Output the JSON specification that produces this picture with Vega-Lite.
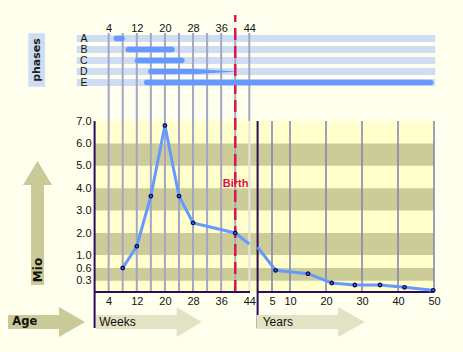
{
  "$schema": "https://vega.github.io/schema/vega-lite/v6.json",
  "width": 463,
  "height": 352,
  "autosize": {"type": "none"},
  "padding": 0,
  "background": "#FFFFEE",
  "config": {
    "view": {"stroke": null},
    "axis": {"labelFont": "Liberation Sans", "labelFontSize": 11, "labelColor": "#111111", "domain": false, "ticks": false, "tickSize": 0, "grid": false, "labelFlush": false, "labelOverlap": false}
  },
  "datasets": {
    "bands": [{"lo": 0.3, "hi": 0.6}, {"lo": 1, "hi": 2}, {"lo": 3, "hi": 4}, {"lo": 5, "hi": 6}],
    "weekgrid": [{"week": 4}, {"week": 8}, {"week": 12}, {"week": 16}, {"week": 20}, {"week": 24}, {"week": 28}, {"week": 32}, {"week": 36}, {"week": 40}],
    "yeargrid": [{"year": 5}, {"year": 10}, {"year": 20}, {"year": 30}, {"year": 40}, {"year": 50}],
    "prenatal": [{"week": 8, "mio": 0.6}, {"week": 12, "mio": 1.4}, {"week": 16, "mio": 3.65}, {"week": 20, "mio": 6.8}, {"week": 24, "mio": 3.65}, {"week": 28, "mio": 2.45}, {"week": 40, "mio": 2.0}, {"week": 44, "mio": 1.5}],
    "postnatal": [{"year": 1, "mio": 1.36}, {"year": 6, "mio": 0.546}, {"year": 15, "mio": 0.465}, {"year": 21.6, "mio": 0.24}, {"year": 28, "mio": 0.186}, {"year": 35, "mio": 0.186}, {"year": 41.8, "mio": 0.125}, {"year": 49.8, "mio": 0.045}],
    "phases": [
      {"phase": "A", "week": 6.2, "intensity": 1}, {"phase": "A", "week": 7.8, "intensity": 1},
      {"phase": "B", "week": 9.6, "intensity": 1}, {"phase": "B", "week": 22.0, "intensity": 1},
      {"phase": "C", "week": 12.2, "intensity": 1}, {"phase": "C", "week": 24.8, "intensity": 1},
      {"phase": "D", "week": 16, "intensity": 1}, {"phase": "D", "week": 29, "intensity": 0.9}, {"phase": "D", "week": 39.6, "intensity": 0.08},
      {"phase": "E", "week": 14.8, "intensity": 1}, {"phase": "E", "week": 95.6, "intensity": 1}
    ],
    "phaserows": [{"phase": "A"}, {"phase": "B"}, {"phase": "C"}, {"phase": "D"}, {"phase": "E"}]
  },
  "layer": [
    {
      "data": {"name": "phaserows"},
      "mark": {"type": "rect", "color": "#CFDDF4"},
      "encoding": {
        "y": {"field": "phase", "type": "nominal", "scale": {"type": "band", "domain": ["A", "B", "C", "D", "E"], "range": [33, 88], "paddingInner": 0.364, "paddingOuter": 0.182}, "axis": {"orient": "left", "offset": -90, "labelPadding": 3, "labelFontSize": 10.5, "title": null}},
        "x": {"datum": -5.1, "type": "quantitative", "scale": {"domain": [0, 44], "range": [94.6, 249.3], "nice": false, "zero": false}, "axis": {"orient": "top", "offset": -34, "values": [4, 12, 20, 28, 36, 44], "labelPadding": 1, "title": null}},
        "x2": {"datum": 96.9}
      }
    },
    {
      "data": {"values": [{}]},
      "mark": {"type": "rect", "color": "#FFFFCC"},
      "encoding": {
        "x": {"datum": 0, "type": "quantitative", "scale": {"domain": [0, 44], "range": [94.6, 249.3], "nice": false, "zero": false}, "axis": null},
        "x2": {"datum": 46.3},
        "y": {"datum": 0, "type": "quantitative", "scale": {"domain": [0, 0.3, 0.6, 1, 2, 7], "range": [292, 280.7, 268, 255, 233, 121], "nice": false, "zero": false}, "axis": null},
        "y2": {"datum": 7}
      }
    },
    {
      "data": {"name": "bands"},
      "mark": {"type": "rect", "color": "#CCCC99"},
      "encoding": {
        "x": {"datum": 0, "type": "quantitative", "scale": {"domain": [0, 44], "range": [94.6, 249.3], "nice": false, "zero": false}, "axis": null},
        "x2": {"datum": 46.3},
        "y": {"field": "lo", "type": "quantitative", "scale": {"domain": [0, 0.3, 0.6, 1, 2, 7], "range": [292, 280.7, 268, 255, 233, 121], "nice": false, "zero": false}, "axis": {"orient": "left", "offset": -95, "values": [0.3, 0.6, 1, 2, 3, 4, 5, 6, 7], "format": ".1f", "labelPadding": 4, "title": null}},
        "y2": {"field": "hi"}
      }
    },
    {
      "data": {"values": [{}]},
      "mark": {"type": "rect", "color": "#FFFFCC"},
      "encoding": {
        "x": {"datum": 1, "type": "quantitative", "scale": {"domain": [1, 50], "range": [257.6, 434], "nice": false, "zero": false}, "axis": null},
        "x2": {"datum": 50},
        "y": {"datum": 0, "type": "quantitative", "scale": {"domain": [0, 0.3, 0.6, 1, 2, 7], "range": [292, 280.7, 268, 255, 233, 121], "nice": false, "zero": false}, "axis": null},
        "y2": {"datum": 7}
      }
    },
    {
      "data": {"name": "bands"},
      "mark": {"type": "rect", "color": "#CCCC99"},
      "encoding": {
        "x": {"datum": 1, "type": "quantitative", "scale": {"domain": [1, 50], "range": [257.6, 434], "nice": false, "zero": false}, "axis": null},
        "x2": {"datum": 50},
        "y": {"field": "lo", "type": "quantitative", "scale": {"domain": [0, 0.3, 0.6, 1, 2, 7], "range": [292, 280.7, 268, 255, 233, 121], "nice": false, "zero": false}, "axis": null},
        "y2": {"field": "hi"}
      }
    },
    {
      "data": {"name": "weekgrid"},
      "mark": {"type": "rule", "color": "#A4A6C4", "strokeWidth": 2},
      "encoding": {
        "x": {"field": "week", "type": "quantitative", "scale": {"domain": [0, 44], "range": [94.6, 249.3], "nice": false, "zero": false}, "axis": {"orient": "bottom", "offset": -60, "values": [4, 12, 20, 28, 36, 44], "labelPadding": 3, "title": null}},
        "y": {"datum": 0, "type": "quantitative", "scale": {"domain": [0, 0.3, 0.6, 1, 2, 7], "range": [292, 280.7, 268, 255, 233, 121], "nice": false, "zero": false}, "axis": null},
        "y2": {"datum": 10.93}
      }
    },
    {
      "data": {"values": [{}]},
      "mark": {"type": "rule", "color": "#A4A6C4", "strokeWidth": 2},
      "encoding": {
        "x": {"datum": 44, "type": "quantitative", "scale": {"domain": [0, 44], "range": [94.6, 249.3], "nice": false, "zero": false}, "axis": null},
        "y": {"datum": 7, "type": "quantitative", "scale": {"domain": [0, 0.3, 0.6, 1, 2, 7], "range": [292, 280.7, 268, 255, 233, 121], "nice": false, "zero": false}, "axis": null},
        "y2": {"datum": 10.93}
      }
    },
    {
      "data": {"values": [{}]},
      "mark": {"type": "rule", "color": "#E2E2E6", "strokeWidth": 2},
      "encoding": {
        "x": {"datum": 44, "type": "quantitative", "scale": {"domain": [0, 44], "range": [94.6, 249.3], "nice": false, "zero": false}, "axis": null},
        "y": {"datum": 0, "type": "quantitative", "scale": {"domain": [0, 0.3, 0.6, 1, 2, 7], "range": [292, 280.7, 268, 255, 233, 121], "nice": false, "zero": false}, "axis": null},
        "y2": {"datum": 7}
      }
    },
    {
      "data": {"name": "yeargrid"},
      "mark": {"type": "rule", "color": "#7F7FB5", "strokeWidth": 1.5},
      "encoding": {
        "x": {"field": "year", "type": "quantitative", "scale": {"domain": [1, 50], "range": [257.6, 434], "nice": false, "zero": false}, "axis": {"orient": "bottom", "offset": -60, "values": [5, 10, 20, 30, 40, 50], "labelPadding": 3, "title": null}},
        "y": {"datum": 0, "type": "quantitative", "scale": {"domain": [0, 0.3, 0.6, 1, 2, 7], "range": [292, 280.7, 268, 255, 233, 121], "nice": false, "zero": false}, "axis": null},
        "y2": {"datum": 7}
      }
    },
    {
      "data": {"values": [{}]},
      "mark": {"type": "rule", "color": "#D8174A", "strokeWidth": 2.5, "strokeDash": [12, 6]},
      "encoding": {
        "x": {"datum": 40, "type": "quantitative", "scale": {"domain": [0, 44], "range": [94.6, 249.3], "nice": false, "zero": false}, "axis": null},
        "y": {"datum": 0, "type": "quantitative", "scale": {"domain": [0, 0.3, 0.6, 1, 2, 7], "range": [292, 280.7, 268, 255, 233, 121], "nice": false, "zero": false}, "axis": null},
        "y2": {"datum": 11.73}
      }
    },
    {
      "data": {"values": [{}]},
      "mark": {"type": "rule", "color": "#2E0B5E", "strokeWidth": 2},
      "encoding": {
        "x": {"datum": 0, "type": "quantitative", "scale": {"domain": [0, 44], "range": [94.6, 249.3], "nice": false, "zero": false}, "axis": null},
        "y": {"datum": 7, "type": "quantitative", "scale": {"domain": [0, 0.3, 0.6, 1, 2, 7], "range": [292, 280.7, 268, 255, 233, 121], "nice": false, "zero": false}, "axis": null},
        "y2": {"datum": -0.956}
      }
    },
    {
      "data": {"values": [{}]},
      "mark": {"type": "rule", "color": "#2E0B5E", "strokeWidth": 2},
      "encoding": {
        "x": {"datum": 0, "type": "quantitative", "scale": {"domain": [0, 44], "range": [94.6, 249.3], "nice": false, "zero": false}, "axis": null},
        "x2": {"datum": 44.2},
        "y": {"datum": 0, "type": "quantitative", "scale": {"domain": [0, 0.3, 0.6, 1, 2, 7], "range": [292, 280.7, 268, 255, 233, 121], "nice": false, "zero": false}, "axis": null}
      }
    },
    {
      "data": {"values": [{}]},
      "mark": {"type": "rule", "color": "#2E0B5E", "strokeWidth": 2},
      "encoding": {
        "x": {"datum": 1, "type": "quantitative", "scale": {"domain": [1, 50], "range": [257.6, 434], "nice": false, "zero": false}, "axis": null},
        "y": {"datum": 7, "type": "quantitative", "scale": {"domain": [0, 0.3, 0.6, 1, 2, 7], "range": [292, 280.7, 268, 255, 233, 121], "nice": false, "zero": false}, "axis": null},
        "y2": {"datum": -0.956}
      }
    },
    {
      "data": {"values": [{}]},
      "mark": {"type": "rule", "color": "#2E0B5E", "strokeWidth": 2},
      "encoding": {
        "x": {"datum": 1, "type": "quantitative", "scale": {"domain": [1, 50], "range": [257.6, 434], "nice": false, "zero": false}, "axis": null},
        "x2": {"datum": 50},
        "y": {"datum": 0, "type": "quantitative", "scale": {"domain": [0, 0.3, 0.6, 1, 2, 7], "range": [292, 280.7, 268, 255, 233, 121], "nice": false, "zero": false}, "axis": null}
      }
    },
    {
      "data": {"name": "phases"},
      "mark": {"type": "trail", "color": "#6699FF"},
      "encoding": {
        "x": {"field": "week", "type": "quantitative", "scale": {"domain": [0, 44], "range": [94.6, 249.3], "nice": false, "zero": false}, "axis": null},
        "y": {"field": "phase", "type": "nominal", "scale": {"type": "point", "domain": ["A", "B", "C", "D", "E"], "range": [38.5, 82.5], "padding": 0}, "axis": null},
        "size": {"field": "intensity", "type": "quantitative", "scale": {"domain": [0, 1], "range": [0, 5.5]}, "legend": null},
        "detail": {"field": "phase"}
      }
    },
    {
      "data": {"name": "prenatal"},
      "mark": {"type": "line", "color": "#6699FF", "strokeWidth": 3},
      "encoding": {
        "x": {"field": "week", "type": "quantitative", "scale": {"domain": [0, 44], "range": [94.6, 249.3], "nice": false, "zero": false}, "axis": null},
        "y": {"field": "mio", "type": "quantitative", "scale": {"domain": [0, 0.3, 0.6, 1, 2, 7], "range": [292, 280.7, 268, 255, 233, 121], "nice": false, "zero": false}, "axis": null}
      }
    },
    {
      "data": {"name": "prenatal"},
      "transform": [{"filter": "datum.week <= 40"}],
      "mark": {"type": "point", "filled": true, "color": "#4466DD", "stroke": "#0D0D5C", "strokeWidth": 1.3, "size": 12, "opacity": 1},
      "encoding": {
        "x": {"field": "week", "type": "quantitative", "scale": {"domain": [0, 44], "range": [94.6, 249.3], "nice": false, "zero": false}, "axis": null},
        "y": {"field": "mio", "type": "quantitative", "scale": {"domain": [0, 0.3, 0.6, 1, 2, 7], "range": [292, 280.7, 268, 255, 233, 121], "nice": false, "zero": false}, "axis": null}
      }
    },
    {
      "data": {"name": "postnatal"},
      "mark": {"type": "line", "color": "#6699FF", "strokeWidth": 3},
      "encoding": {
        "x": {"field": "year", "type": "quantitative", "scale": {"domain": [1, 50], "range": [257.6, 434], "nice": false, "zero": false}, "axis": null},
        "y": {"field": "mio", "type": "quantitative", "scale": {"domain": [0, 0.3, 0.6, 1, 2, 7], "range": [292, 280.7, 268, 255, 233, 121], "nice": false, "zero": false}, "axis": null}
      }
    },
    {
      "data": {"name": "postnatal"},
      "transform": [{"filter": "datum.year >= 5"}],
      "mark": {"type": "point", "filled": true, "color": "#4466DD", "stroke": "#0D0D5C", "strokeWidth": 1.3, "size": 12, "opacity": 1},
      "encoding": {
        "x": {"field": "year", "type": "quantitative", "scale": {"domain": [1, 50], "range": [257.6, 434], "nice": false, "zero": false}, "axis": null},
        "y": {"field": "mio", "type": "quantitative", "scale": {"domain": [0, 0.3, 0.6, 1, 2, 7], "range": [292, 280.7, 268, 255, 233, 121], "nice": false, "zero": false}, "axis": null}
      }
    },
    {
      "data": {"values": [{}]},
      "mark": {"type": "text", "text": "Birth", "font": "Liberation Sans", "fontWeight": "bold", "fontSize": 11, "color": "#DD1144", "align": "center", "baseline": "middle"},
      "encoding": {
        "x": {"datum": 40.1, "type": "quantitative", "scale": {"domain": [0, 44], "range": [94.6, 249.3], "nice": false, "zero": false}, "axis": null},
        "y": {"datum": 4.19, "type": "quantitative", "scale": {"domain": [0, 0.3, 0.6, 1, 2, 7], "range": [292, 280.7, 268, 255, 233, 121], "nice": false, "zero": false}, "axis": null}
      }
    },
    {
      "data": {"values": [{}]},
      "mark": {"type": "rect", "color": "#CFDDF4"},
      "encoding": {
        "x": {"datum": -18.86, "type": "quantitative", "scale": {"domain": [0, 44], "range": [94.6, 249.3], "nice": false, "zero": false}, "axis": null},
        "x2": {"datum": -14.11},
        "y": {"datum": 10.915, "type": "quantitative", "scale": {"domain": [0, 0.3, 0.6, 1, 2, 7], "range": [292, 280.7, 268, 255, 233, 121], "nice": false, "zero": false}, "axis": null},
        "y2": {"datum": 8.531}
      }
    },
    {
      "data": {"values": [{}]},
      "mark": {"type": "text", "text": "phases", "font": "DejaVu Sans", "fontWeight": "bold", "fontSize": 11, "color": "#222222", "angle": 270, "align": "center", "baseline": "middle"},
      "encoding": {
        "x": {"datum": -16.39, "type": "quantitative", "scale": {"domain": [0, 44], "range": [94.6, 249.3], "nice": false, "zero": false}, "axis": null},
        "y": {"datum": 9.723, "type": "quantitative", "scale": {"domain": [0, 0.3, 0.6, 1, 2, 7], "range": [292, 280.7, 268, 255, 233, 121], "nice": false, "zero": false}, "axis": null}
      }
    },
    {
      "data": {"values": [{}]},
      "mark": {"type": "point", "shape": "M-0.105,1L-0.105,-0.613L-0.234,-0.613L0,-1L0.234,-0.613L0.105,-0.613L0.105,1Z", "size": 15376, "filled": true, "color": "#CACA98", "opacity": 1, "strokeWidth": 0},
      "encoding": {
        "x": {"datum": -16.24, "type": "quantitative", "scale": {"domain": [0, 44], "range": [94.6, 249.3], "nice": false, "zero": false}, "axis": null},
        "y": {"datum": 2.446, "type": "quantitative", "scale": {"domain": [0, 0.3, 0.6, 1, 2, 7], "range": [292, 280.7, 268, 255, 233, 121], "nice": false, "zero": false}, "axis": null}
      }
    },
    {
      "data": {"values": [{}]},
      "mark": {"type": "text", "text": "Mio", "font": "DejaVu Sans", "fontWeight": "bold", "fontSize": 12, "color": "#111111", "angle": 270, "align": "center", "baseline": "middle"},
      "encoding": {
        "x": {"datum": -16.24, "type": "quantitative", "scale": {"domain": [0, 44], "range": [94.6, 249.3], "nice": false, "zero": false}, "axis": null},
        "y": {"datum": 0.553, "type": "quantitative", "scale": {"domain": [0, 0.3, 0.6, 1, 2, 7], "range": [292, 280.7, 268, 255, 233, 121], "nice": false, "zero": false}, "axis": null}
      }
    },
    {
      "data": {"values": [{}]},
      "mark": {"type": "point", "shape": "M-1,-0.182L0.325,-0.182L0.325,-0.39L1,0L0.325,0.39L0.325,0.182L-1,0.182Z", "size": 5929, "filled": true, "color": "#CACA98", "opacity": 1, "strokeWidth": 0},
      "encoding": {
        "x": {"datum": -13.68, "type": "quantitative", "scale": {"domain": [0, 44], "range": [94.6, 249.3], "nice": false, "zero": false}, "axis": null},
        "y": {"datum": -0.796, "type": "quantitative", "scale": {"domain": [0, 0.3, 0.6, 1, 2, 7], "range": [292, 280.7, 268, 255, 233, 121], "nice": false, "zero": false}, "axis": null}
      }
    },
    {
      "data": {"values": [{}]},
      "mark": {"type": "text", "text": "Age", "font": "DejaVu Sans", "fontWeight": "bold", "fontSize": 11.5, "color": "#111111", "align": "left", "baseline": "middle"},
      "encoding": {
        "x": {"datum": -23.4, "type": "quantitative", "scale": {"domain": [0, 44], "range": [94.6, 249.3], "nice": false, "zero": false}, "axis": null},
        "y": {"datum": -0.796, "type": "quantitative", "scale": {"domain": [0, 0.3, 0.6, 1, 2, 7], "range": [292, 280.7, 268, 255, 233, 121], "nice": false, "zero": false}, "axis": null}
      }
    },
    {
      "data": {"values": [{}]},
      "mark": {"type": "point", "shape": "M-1,-0.132L0.527,-0.132L0.527,-0.284L1,0L0.527,0.284L0.527,0.132L-1,0.132Z", "size": 11172, "filled": true, "color": "#E3E3C4", "opacity": 1, "strokeWidth": 0},
      "encoding": {
        "x": {"datum": 15.43, "type": "quantitative", "scale": {"domain": [0, 44], "range": [94.6, 249.3], "nice": false, "zero": false}, "axis": null},
        "y": {"datum": -0.796, "type": "quantitative", "scale": {"domain": [0, 0.3, 0.6, 1, 2, 7], "range": [292, 280.7, 268, 255, 233, 121], "nice": false, "zero": false}, "axis": null}
      }
    },
    {
      "data": {"values": [{}]},
      "mark": {"type": "text", "text": "Weeks", "font": "Liberation Sans", "fontSize": 12, "color": "#111111", "align": "left", "baseline": "middle"},
      "encoding": {
        "x": {"datum": 1.3, "type": "quantitative", "scale": {"domain": [0, 44], "range": [94.6, 249.3], "nice": false, "zero": false}, "axis": null},
        "y": {"datum": -0.796, "type": "quantitative", "scale": {"domain": [0, 0.3, 0.6, 1, 2, 7], "range": [292, 280.7, 268, 255, 233, 121], "nice": false, "zero": false}, "axis": null}
      }
    },
    {
      "data": {"values": [{}]},
      "mark": {"type": "point", "shape": "M-1,-0.129L0.501,-0.129L0.501,-0.277L1,0L0.501,0.277L0.501,0.129L-1,0.129Z", "size": 11729, "filled": true, "color": "#E3E3C4", "opacity": 1, "strokeWidth": 0},
      "encoding": {
        "x": {"datum": 15.79, "type": "quantitative", "scale": {"domain": [1, 50], "range": [257.6, 434], "nice": false, "zero": false}, "axis": null},
        "y": {"datum": -0.796, "type": "quantitative", "scale": {"domain": [0, 0.3, 0.6, 1, 2, 7], "range": [292, 280.7, 268, 255, 233, 121], "nice": false, "zero": false}, "axis": null}
      }
    },
    {
      "data": {"values": [{}]},
      "mark": {"type": "text", "text": "Years", "font": "Liberation Sans", "fontSize": 12, "color": "#111111", "align": "left", "baseline": "middle"},
      "encoding": {
        "x": {"datum": 2.4, "type": "quantitative", "scale": {"domain": [1, 50], "range": [257.6, 434], "nice": false, "zero": false}, "axis": null},
        "y": {"datum": -0.796, "type": "quantitative", "scale": {"domain": [0, 0.3, 0.6, 1, 2, 7], "range": [292, 280.7, 268, 255, 233, 121], "nice": false, "zero": false}, "axis": null}
      }
    }
  ],
  "resolve": {"scale": {"x": "independent", "y": "independent", "size": "independent"}, "axis": {"x": "independent", "y": "independent"}}
}
